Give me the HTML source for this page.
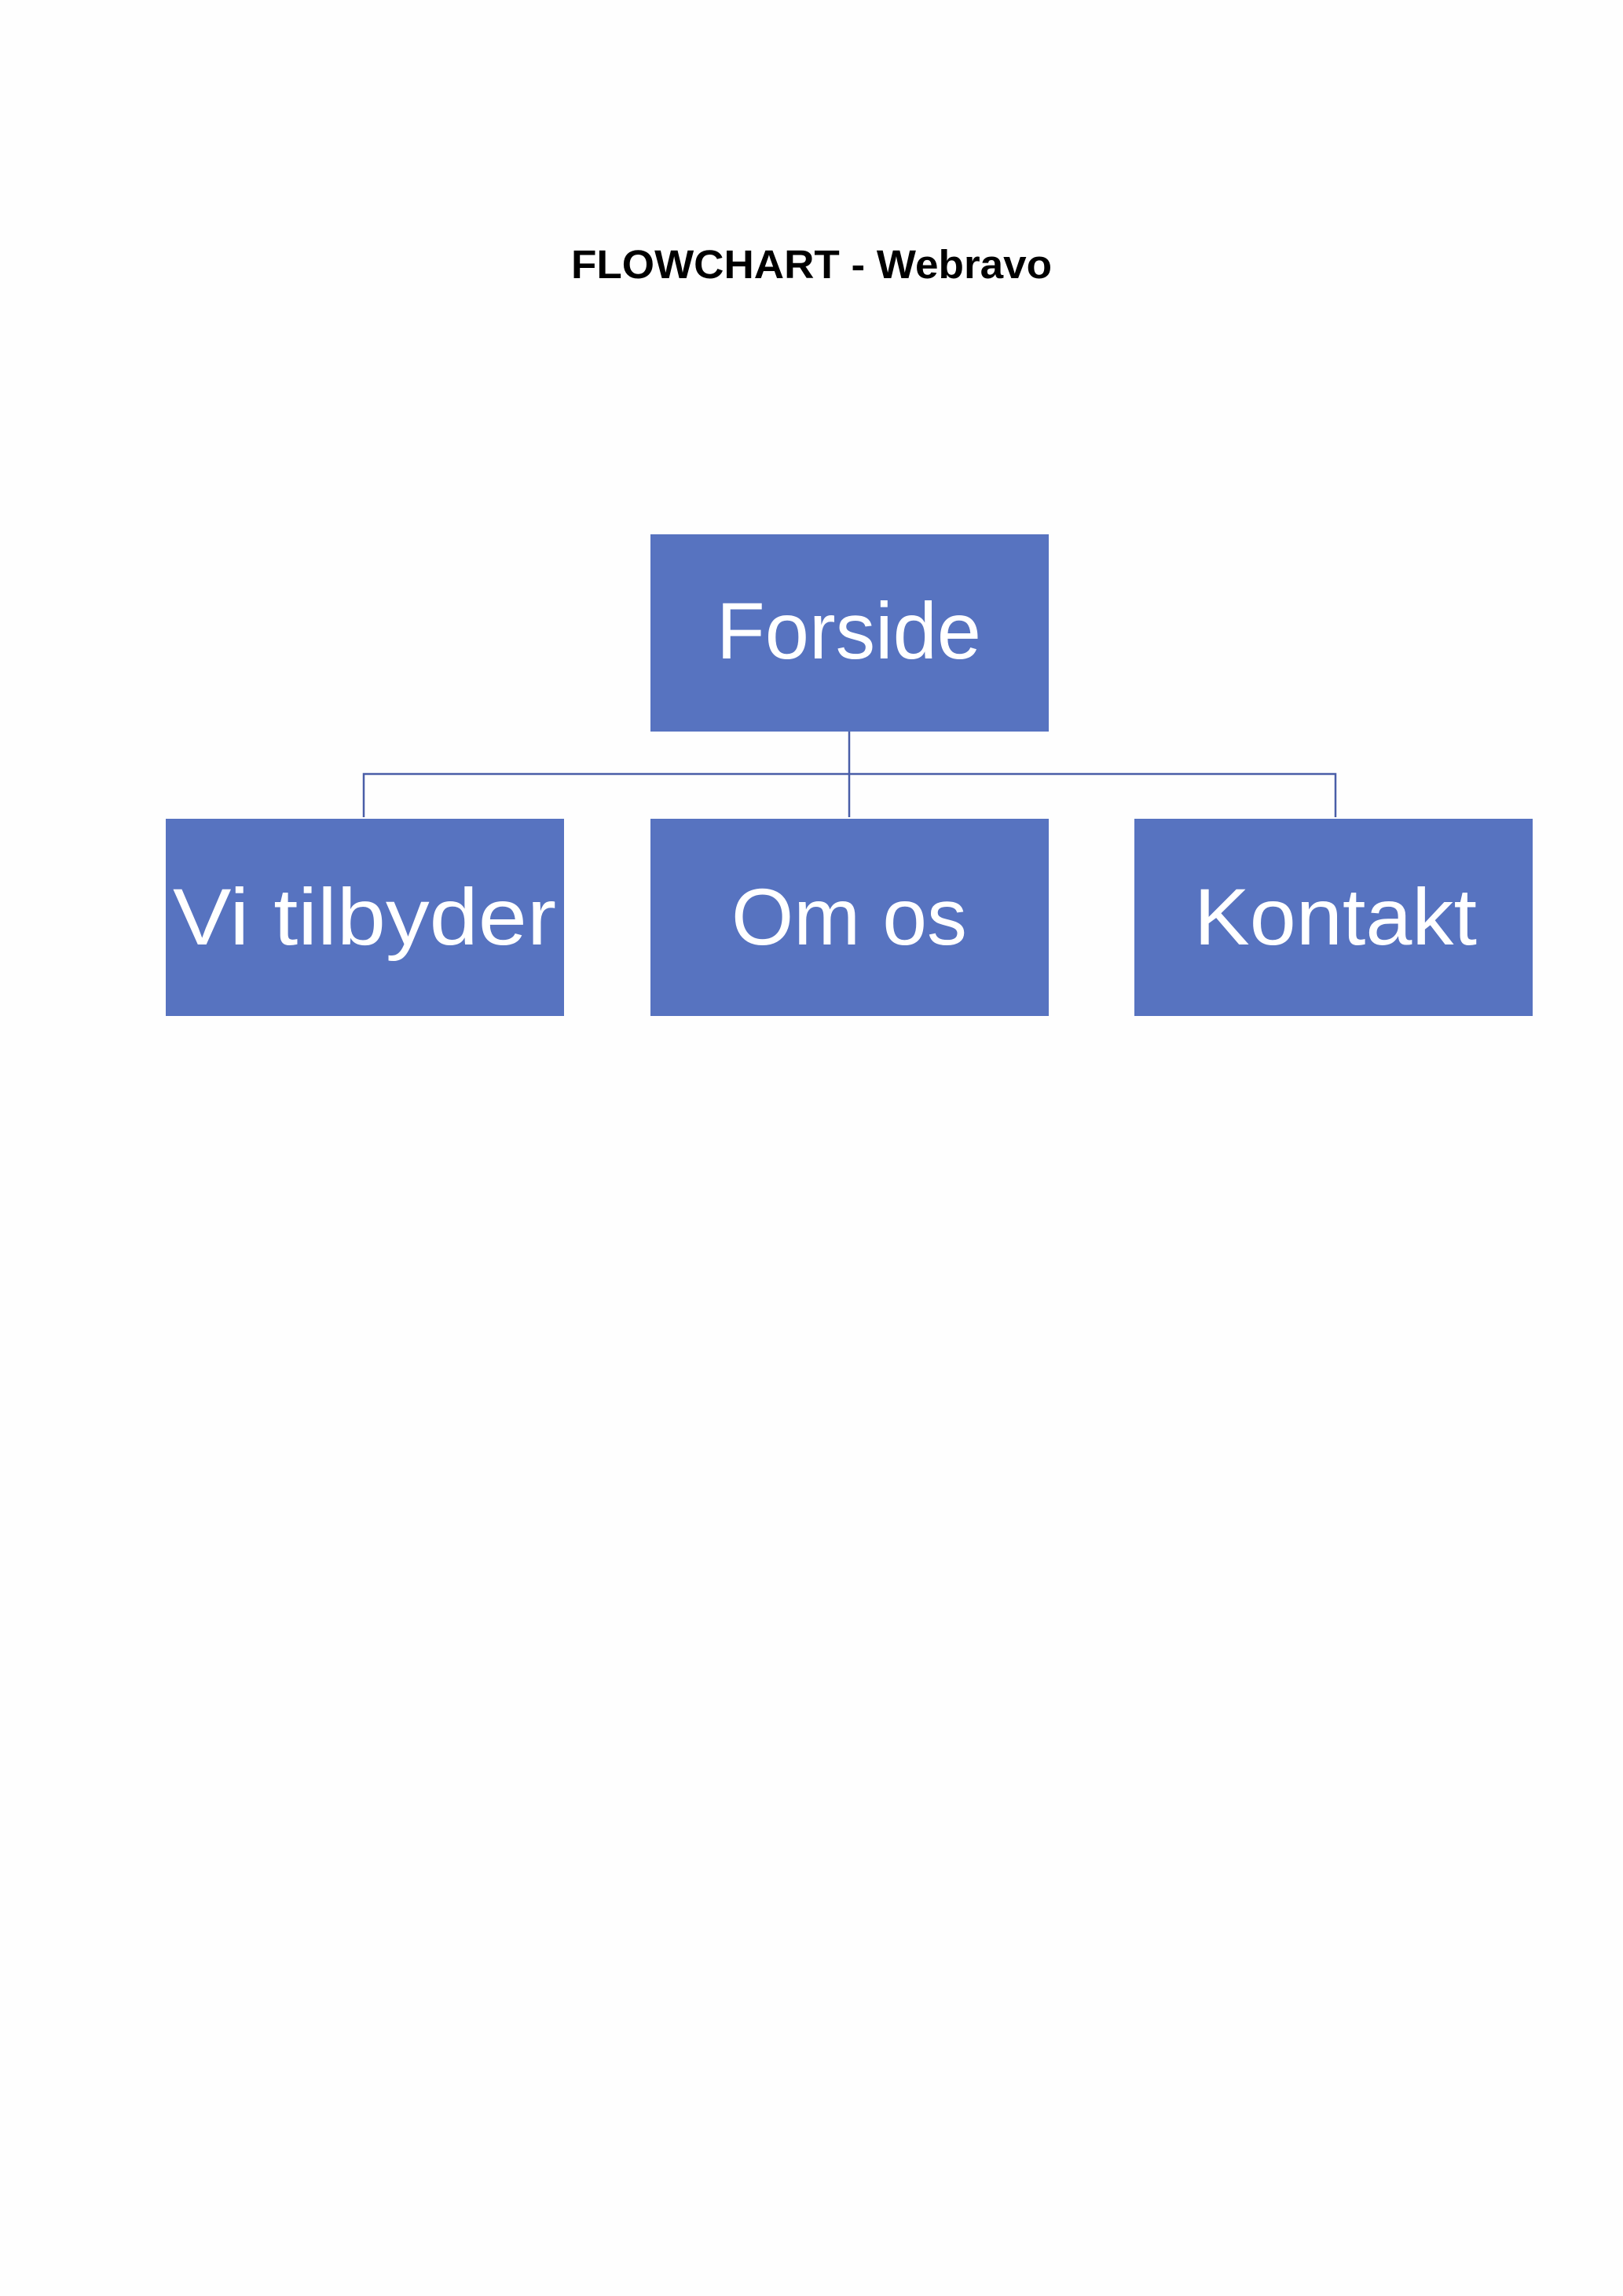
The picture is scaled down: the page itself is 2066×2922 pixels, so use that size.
<!DOCTYPE html>
<html><head><style>html,body{margin:0;padding:0;background:#fff}</style></head>
<body>
<svg width="2066" height="2922" xmlns="http://www.w3.org/2000/svg" style="display:block">
<rect width="2066" height="2922" fill="#fefefe"/>
<text x="727" y="354" font-family="Liberation Sans, sans-serif" font-weight="bold" font-size="51" textLength="612" lengthAdjust="spacingAndGlyphs" fill="#000">FLOWCHART - Webravo</text>
<g stroke="#4a5ea8" stroke-width="2.5" fill="none">
<line x1="1081" y1="930" x2="1081" y2="1040"/>
<polyline points="463,1040 463,985 1700,985 1700,1040"/>
</g>
<g fill="#5773c0">
<rect x="828" y="680" width="507" height="251"/>
<rect x="211" y="1042" width="507" height="251"/>
<rect x="828" y="1042" width="507" height="251"/>
<rect x="1444" y="1042" width="507" height="251"/>
</g>
<g font-family="Liberation Sans, sans-serif" font-size="102" fill="#fff">
<text x="912" y="838" textLength="337" lengthAdjust="spacingAndGlyphs">Forside</text>
<text x="220" y="1202" textLength="488" lengthAdjust="spacingAndGlyphs">Vi tilbyder</text>
<text x="931" y="1202" textLength="300" lengthAdjust="spacingAndGlyphs">Om os</text>
<text x="1520" y="1202" textLength="360" lengthAdjust="spacingAndGlyphs">Kontakt</text>
</g>
</svg>
</body></html>
